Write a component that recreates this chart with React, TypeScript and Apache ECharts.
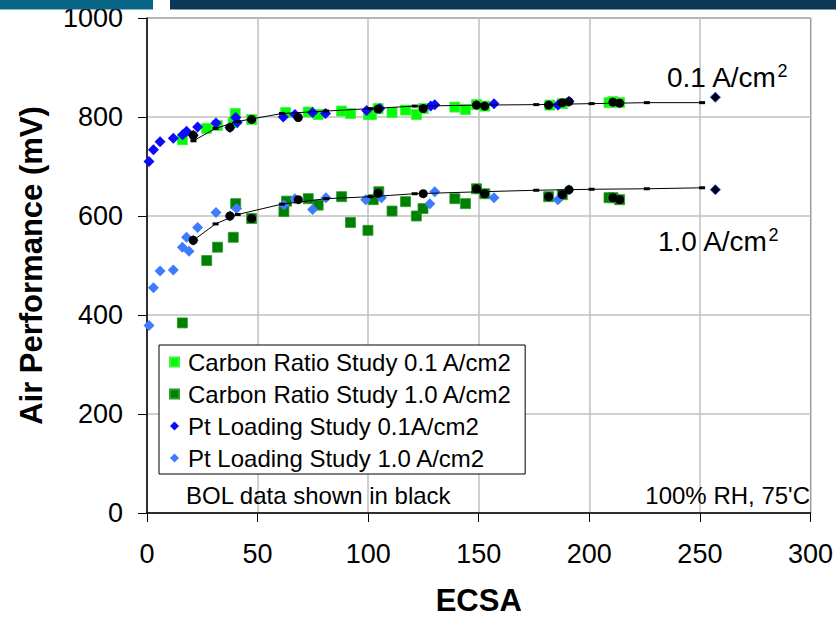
import React, { useEffect, useRef } from "react";
import * as echarts from "echarts";

// Air performance (mV) vs. ECSA
const carbonRatio01: [number, number][] = [
  [16, 754], [27, 777], [31.8, 783], [39, 789], [39.9, 807], [47.3, 795],
  [62.7, 809], [72.9, 810], [77.4, 805], [88, 812], [92, 807], [100.2, 805],
  [101.5, 805], [104.5, 817], [110.8, 809], [116.9, 814], [121.8, 805],
  [124.9, 817], [139.2, 820], [144, 815], [149, 825], [152.7, 822],
  [182.1, 824], [187.8, 827], [208.9, 829], [210.7, 831], [213.7, 829],
];

const carbonRatio10: [number, number][] = [
  [16, 384], [27, 510], [31.9, 537], [39, 557], [40.1, 625], [47.3, 595],
  [61.9, 609], [63.1, 630], [72.9, 635], [77.4, 622], [88, 639], [92, 587],
  [99.9, 571], [102.3, 633], [104.8, 649], [110.8, 610], [116.9, 629],
  [121.8, 600], [124.8, 615], [139.2, 635], [144, 625], [149, 655],
  [152.7, 645], [181.6, 639], [187.8, 643], [208.9, 637], [210.7, 637],
  [213.7, 633],
];

const ptLoading01: [number, number][] = [
  [0.9, 710], [2.9, 734], [5.9, 750], [11.9, 757], [16.1, 764], [17.9, 771],
  [20.9, 763], [22.9, 780], [31.2, 788], [37.5, 779], [40.1, 799], [40.8, 789],
  [61.6, 800], [66.9, 805], [74.9, 809], [80.7, 807], [99.3, 813],
  [105.3, 817], [128.3, 822], [130.1, 825], [156.9, 827], [185.8, 824],
  [190.8, 832],
];

const ptLoading10: [number, number][] = [
  [0.9, 379], [2.9, 455], [5.9, 489], [11.9, 491], [16, 537], [17.9, 557],
  [19, 529], [20.9, 551], [22.9, 577], [31.2, 607], [37.5, 600], [40.5, 615],
  [61.9, 622], [66.9, 635], [74.9, 613], [80.9, 637], [98.9, 633], [106, 637],
  [127.9, 625], [130.1, 649], [156.9, 637], [185.8, 633], [190.8, 653],
];

// Beginning-of-life points (drawn in black)
const bol01: [number, number][] = [
  [20.9, 763], [37.5, 779], [47.3, 795], [68.4, 799], [104.5, 816],
  [124.9, 817], [149, 824], [152.7, 822], [181.6, 824], [187.8, 829],
  [190.8, 831], [210.7, 830], [213.7, 828],
];

const bol10: [number, number][] = [
  [20.9, 551], [37.5, 600], [47.3, 595], [68.4, 633], [104.5, 646],
  [124.9, 645], [149, 655], [152.7, 645], [181.6, 639], [187.8, 643],
  [190.8, 653], [210.7, 637], [213.7, 633],
];

const bolHighEcsa: [number, number][] = [
  [257, 840], [257, 653],
];

// Fitted trend lines
const fitEcsa = [21, 31, 41, 61, 81, 101, 121, 151, 176, 201, 226, 251];
const fit01 = [752, 777, 791, 807, 812, 817, 822, 824, 825, 827, 829, 829];
const fit10 = [551, 584, 603, 624, 635, 639, 645, 649, 652, 654, 655, 657];

const xTicks = { min: 0, max: 300, interval: 50 };
const yTicks = { min: 0, max: 1000, interval: 200 };

const FONT = "'Liberation Sans', Arial, Helvetica, sans-serif";

export default function App() {
  const ref = useRef<HTMLDivElement>(null);

  useEffect(() => {
    if (!ref.current) return;
    const chart = echarts.init(ref.current, undefined, { renderer: "svg" });

    const zip = (xs: number[], ys: number[]) => xs.map((x, i) => [x, ys[i]]);

    chart.setOption({
      animation: false,
      backgroundColor: "#ffffff",
      textStyle: { fontFamily: FONT },
      grid: {
        left: 147,
        right: 25,
        top: 18,
        bottom: 103,
        show: true,
        borderColor: "#333333",
        borderWidth: 1,
        backgroundColor: "#ffffff",
      },
      legend: {
        orient: "vertical",
        left: 159,
        top: 345,
        data: [
          "Carbon Ratio Study 0.1 A/cm2",
          "Carbon Ratio Study 1.0 A/cm2",
          "Pt Loading Study 0.1A/cm2",
          "Pt Loading Study 1.0 A/cm2",
        ],
        itemWidth: 9,
        itemHeight: 9,
        itemGap: 8,
        padding: [5, 13, 4, 10],
        borderColor: "#000000",
        borderWidth: 1,
        borderRadius: 0,
        backgroundColor: "#ffffff",
        textStyle: {
          fontFamily: FONT,
          fontSize: 24,
          lineHeight: 24,
          color: "#000000",
          padding: [0, 0, 0, 4],
        },
        z: 10,
      },
      xAxis: {
        type: "value",
        ...xTicks,
        name: "ECSA",
        nameLocation: "middle",
        nameGap: 72,
        nameTextStyle: { fontFamily: FONT, fontSize: 31, fontWeight: "bold", color: "#000" },
        axisLine: { show: true, onZero: false, lineStyle: { color: "#000", width: 1.5 } },
        axisTick: { show: true, length: 9, lineStyle: { color: "#000", width: 1 } },
        axisLabel: { fontFamily: FONT, fontSize: 27, color: "#000", margin: 27, formatter: (v: number) => String(v) },
        splitLine: { show: true, lineStyle: { color: "#c0c0c0", width: 1.5 } },
      },
      yAxis: {
        type: "value",
        ...yTicks,
        name: "Air Performance (mV)",
        nameLocation: "middle",
        nameGap: 100,
        nameTextStyle: { fontFamily: FONT, fontSize: 31, fontWeight: "bold", color: "#000" },
        axisLine: { show: true, onZero: false, lineStyle: { color: "#000", width: 1.5 } },
        axisTick: { show: true, length: 9, lineStyle: { color: "#000", width: 1 } },
        axisLabel: { fontFamily: FONT, fontSize: 27, color: "#000", margin: 24, formatter: (v: number) => String(v) },
        splitLine: { show: true, lineStyle: { color: "#c0c0c0", width: 1.5 } },
      },
      series: [
        {
          name: "Carbon Ratio Study 0.1 A/cm2",
          type: "scatter",
          symbol: "rect",
          symbolSize: 10,
          itemStyle: { color: "#00ff00", borderColor: "#44ee44", borderWidth: 0.8, opacity: 1 },
          data: carbonRatio01,
          z: 2,
        },
        {
          name: "Carbon Ratio Study 1.0 A/cm2",
          type: "scatter",
          symbol: "rect",
          symbolSize: 10,
          itemStyle: { color: "#008000", borderColor: "#2a9a2a", borderWidth: 0.8, opacity: 1 },
          data: carbonRatio10,
          z: 2,
        },
        {
          name: "Pt Loading Study 0.1A/cm2",
          type: "scatter",
          symbol: "diamond",
          symbolSize: 11,
          itemStyle: { color: "#0a0aff", opacity: 1 },
          data: ptLoading01,
          z: 3,
        },
        {
          name: "Pt Loading Study 1.0 A/cm2",
          type: "scatter",
          symbol: "diamond",
          symbolSize: 11,
          itemStyle: { color: "#3d7cff", opacity: 1 },
          data: ptLoading10,
          z: 3,
        },
        {
          name: "fit 0.1",
          type: "line",
          data: zip(fitEcsa, fit01),
          symbol: "rect",
          symbolSize: [6, 3],
          showSymbol: true,
          itemStyle: { color: "#000", opacity: 1 },
          lineStyle: { color: "#000", width: 1 },
          z: 4,
        },
        {
          name: "fit 1.0",
          type: "line",
          data: zip(fitEcsa, fit10),
          symbol: "rect",
          symbolSize: [6, 3],
          showSymbol: true,
          itemStyle: { color: "#000", opacity: 1 },
          lineStyle: { color: "#000", width: 1 },
          z: 4,
        },
        {
          name: "BOL 0.1",
          type: "scatter",
          symbol: "circle",
          symbolSize: 9,
          itemStyle: { color: "#000", opacity: 1 },
          data: bol01,
          z: 5,
        },
        {
          name: "BOL 1.0",
          type: "scatter",
          symbol: "circle",
          symbolSize: 9,
          itemStyle: { color: "#000", opacity: 1 },
          data: bol10,
          z: 5,
        },
        {
          name: "BOL Pt",
          type: "scatter",
          symbol: "diamond",
          symbolSize: 10,
          itemStyle: { color: "#000", borderColor: "#2040ff", borderWidth: 1, opacity: 1 },
          data: bolHighEcsa,
          z: 5,
        },
      ],
      graphic: [
        { type: "rect", shape: { x: 0, y: 0, width: 153, height: 9.5 }, style: { fill: "#0a6687" }, z: 20 },
        { type: "rect", shape: { x: 170, y: 0, width: 666, height: 9.5 }, style: { fill: "#0b3755" }, z: 20 },
        {
          type: "text",
          x: 667,
          y: 77,
          style: {
            text: "{a|0.1 A/cm}{s|2}",
            verticalAlign: "middle",
            rich: {
              a: { fontFamily: FONT, fontSize: 28, color: "#000", lineHeight: 30 },
              s: { fontFamily: FONT, fontSize: 18, color: "#000", lineHeight: 30, verticalAlign: "top" },
            },
          },
          z: 20,
        },
        {
          type: "text",
          x: 658,
          y: 241,
          style: {
            text: "{a|1.0 A/cm}{s|2}",
            verticalAlign: "middle",
            rich: {
              a: { fontFamily: FONT, fontSize: 28, color: "#000", lineHeight: 30 },
              s: { fontFamily: FONT, fontSize: 18, color: "#000", lineHeight: 30, verticalAlign: "top" },
            },
          },
          z: 20,
        },
        {
          type: "text",
          x: 186,
          y: 495,
          style: { text: "BOL data shown in black", fontFamily: FONT, fontSize: 24, fill: "#000", verticalAlign: "middle" },
          z: 20,
        },
        {
          type: "text",
          x: 810,
          y: 495,
          style: { text: "100% RH, 75'C", fontFamily: FONT, fontSize: 24, fill: "#000", align: "right", verticalAlign: "middle" },
          z: 20,
        },
      ],
    });

    return () => chart.dispose();
  }, []);

  return (
    <div
      ref={ref}
      style={{ position: "absolute", left: 0, top: 0, width: 836, height: 621, background: "#fff" }}
    />
  );
}
